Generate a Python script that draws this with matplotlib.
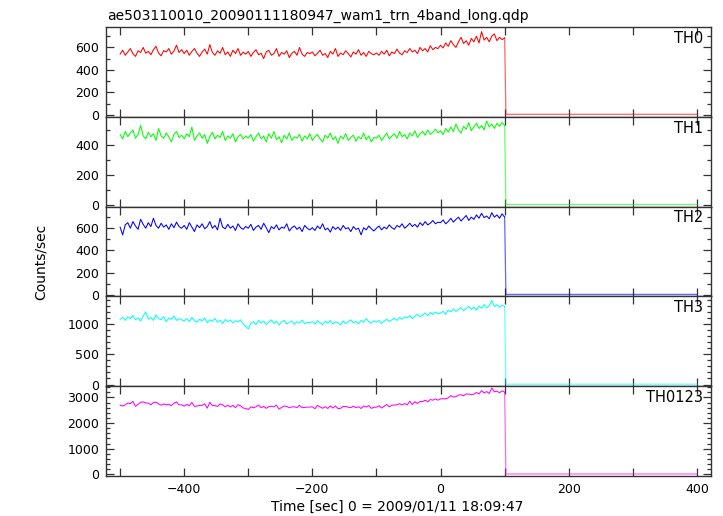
import matplotlib
matplotlib.use("Agg")
import matplotlib.pyplot as plt
from matplotlib.ticker import MultipleLocator
import numpy as np

plt.rcParams['font.family'] = ['DejaVu Sans']

# light curve samples every 4 s from -500 s up to the dropout at 100 s
t_start = -500
t_step = 4

th0 = [540, 575, 530, 560, 590, 545, 520, 570, 555, 600, 548, 565, 535, 580, 610, 550, 525, 572, 560, 590, 540, 568, 620, 555, 580,
       545, 575, 530, 565, 590, 548, 520, 560, 585, 540, 625, 555, 530, 570, 548, 600, 535, 560, 520, 575, 545, 590, 530, 558, 540,
       565, 520, 555, 580, 535, 548, 500, 560, 575, 530, 545, 590, 520, 555, 540, 570, 510, 548, 565, 530, 600, 540, 520, 555, 545,
       560, 525, 548, 575, 530, 545, 510, 565, 540, 590, 520, 550, 535, 570, 545, 515, 560, 540, 580, 530, 555, 520, 565, 545, 535,
       550, 530, 565, 540, 575, 525, 560, 545, 585, 550, 535, 570, 555, 590, 560, 575, 545, 600, 570, 590, 560, 615, 580, 600, 590,
       620, 595, 640, 610, 660, 625, 600, 650, 690, 635, 660, 620, 680, 650, 700, 640, 740, 665, 690, 650, 700, 720, 660, 690, 670, 685]

th1 = [470, 440, 490, 455, 480, 500, 445, 470, 530, 460, 440, 485, 455, 475, 430, 510, 460, 445, 480, 455, 420, 470, 490, 450, 465,
       440, 475, 455, 520, 430, 460, 480, 445, 470, 410, 455, 485, 440, 465, 450, 490, 430, 460, 445, 475, 420, 455, 470, 440, 460,
       445, 470, 425, 455, 480, 440, 460, 420, 475, 445, 490, 435, 455, 415, 465, 440, 480, 430, 455, 445, 470, 425, 460, 440, 475,
       430, 455, 470, 440, 420, 465, 445, 480, 435, 455, 410, 460, 440, 475, 430, 450, 465, 425, 455, 440, 480, 435, 460, 420, 450,
       445, 465, 430, 455, 480, 440, 460, 475, 445, 490, 455, 470, 440, 480, 460, 495, 450, 475, 490, 465, 500, 470, 485, 505, 480,
       495, 470, 510, 485, 520, 490, 540, 500, 480, 525, 505, 550, 495, 520, 545, 510, 530, 500, 560, 520, 540, 510, 545, 525, 550, 530]

th2 = [610, 540, 630, 650, 600, 660, 620, 590, 680, 635, 600, 650, 615, 690, 625, 600, 645, 610, 630, 590, 640, 605, 655, 615, 600,
       625, 590, 650, 610, 570, 630, 605, 640, 595, 615, 660, 600, 625, 585, 690, 610, 595, 635, 600, 620, 580, 640, 605, 590, 615,
       600, 635, 580, 610, 625, 590, 645, 605, 560, 615, 595, 630, 585, 610, 600, 640, 575, 605, 620, 590, 610, 570, 625, 600, 585,
       605, 580, 620, 595, 640, 585, 600, 565, 615, 590, 610, 580, 625, 595, 605, 570, 615, 590, 600, 540, 605, 585, 620, 595, 575,
       600, 620, 585, 610, 595, 630, 605, 590, 625, 610, 640, 600, 620, 645, 615, 635, 610, 650, 625, 660, 630, 645, 670, 640, 655,
       650, 675, 640, 660, 690, 655, 680, 700, 665, 690, 715, 670, 700, 680, 720, 690, 735, 695, 710, 685, 740, 700, 720, 690, 730, 700]

th3 = [1080, 1110, 1060, 1120, 1090, 1140, 1070, 1100, 1050, 1130, 1200, 1080, 1110, 1060, 1150, 1090, 1070, 1120, 1040, 1100, 1080, 1130, 1060, 1090, 1070,
       1050, 1090, 1040, 1110, 1060, 1030, 1080, 1050, 1100, 1020, 1070, 1045, 1090, 1030, 1060, 1010, 1075, 1040, 1065, 1020, 1055, 1035, 1070, 1000, 960,
       920, 1010, 1040, 990, 1060, 1020, 1050, 990, 1030, 1070, 1010, 1045, 985, 1035, 1060, 1000, 1030, 1050, 995, 1040, 1015, 1065, 1005, 1030, 1020,
       1040, 1000, 1055, 1020, 990, 1045, 1015, 1060, 1000, 1035, 1025, 985, 1050, 1010, 1040, 1070, 1020, 1045, 1005, 1060, 1030, 1090, 1040, 1015, 1055,
       1030, 1060, 1010, 1050, 1080, 1040, 1070, 1095, 1060, 1110, 1080, 1120, 1100, 1140, 1090, 1130, 1160, 1120, 1150, 1180, 1140, 1190, 1160, 1200, 1170,
       1180, 1210, 1160, 1230, 1200, 1250, 1210, 1240, 1270, 1220, 1260, 1290, 1240, 1280, 1230, 1300, 1260, 1320, 1270, 1300, 1390, 1290, 1320, 1280, 1310, 1290]

# after the dropout the rates sit near zero until 400 s
post_time = [102, 400]
post_level = [4, 2, 3, 5]

n = min(len(th0), len(th1), len(th2), len(th3))
th0123 = [th0[i] + th1[i] + th2[i] + th3[i] for i in range(n)]

names = ['TH0', 'TH1', 'TH2', 'TH3', 'TH0123']
series = [th0, th1, th2, th3, th0123]
posts = post_level + [sum(post_level)]
colors = ['#ff0000', '#00ff00', '#0000ff', '#00ffff', '#ff00ff']
ylims = [(-18, 782), (-12, 588), (-15, 795), (-28, 1457), (-65, 3440)]
ymajor = [200, 200, 200, 500, 1000]
yminor = [100, 100, 100, 100, 200]

fig = plt.figure(figsize=(7.23, 5.16), dpi=100)
left, right, top, bottom = 106 / 723, 711 / 723, 1 - 27 / 516, 1 - 476 / 516
h = (top - bottom) / 5

for k in range(5):
    ax = fig.add_axes([left, top - (k + 1) * h, right - left, h])
    vals = series[k]
    t = [t_start + t_step * i for i in range(len(vals))]
    ax.plot(t, vals, color=colors[k], lw=0.75)
    # drop and flat tail drawn a little paler, like the reference
    ax.plot([t[-1]] + post_time, [vals[-1], posts[k], posts[k]],
            color=colors[k], lw=0.9, alpha=0.6)
    ax.set_xlim(-522, 422)
    ax.set_ylim(*ylims[k])
    ax.xaxis.set_major_locator(MultipleLocator(200))
    ax.xaxis.set_minor_locator(MultipleLocator(100))
    ax.yaxis.set_major_locator(MultipleLocator(ymajor[k]))
    ax.yaxis.set_minor_locator(MultipleLocator(yminor[k]))
    ax.tick_params(which='both', direction='in', top=True, right=True,
                   labelsize=9, color='#333333', width=0.9)
    ax.tick_params(which='major', length=5.5, pad=5)
    ax.tick_params(axis='y', which='minor', length=3)
    ax.tick_params(axis='x', which='minor', length=5.5)
    for s in ax.spines.values():
        s.set_color('#333333')
        s.set_linewidth(1.0)
    ax.text(0.987, 0.875, names[k], transform=ax.transAxes, ha='right',
            va='center', fontsize=10.5)
    if k < 4:
        ax.tick_params(labelbottom=False)

fig.text(0.148, 0.970, 'ae503110010_20090111180947_wam1_trn_4band_long.qdp',
         ha='left', va='center', fontsize=10)
fig.text(0.057, 0.492, 'Counts/sec', rotation=90, ha='center', va='center', fontsize=10)
fig.text(0.549, 0.018, 'Time [sec] 0 = 2009/01/11 18:09:47', ha='center',
         va='center', fontsize=10)

fig.savefig('out.png', dpi=100)
